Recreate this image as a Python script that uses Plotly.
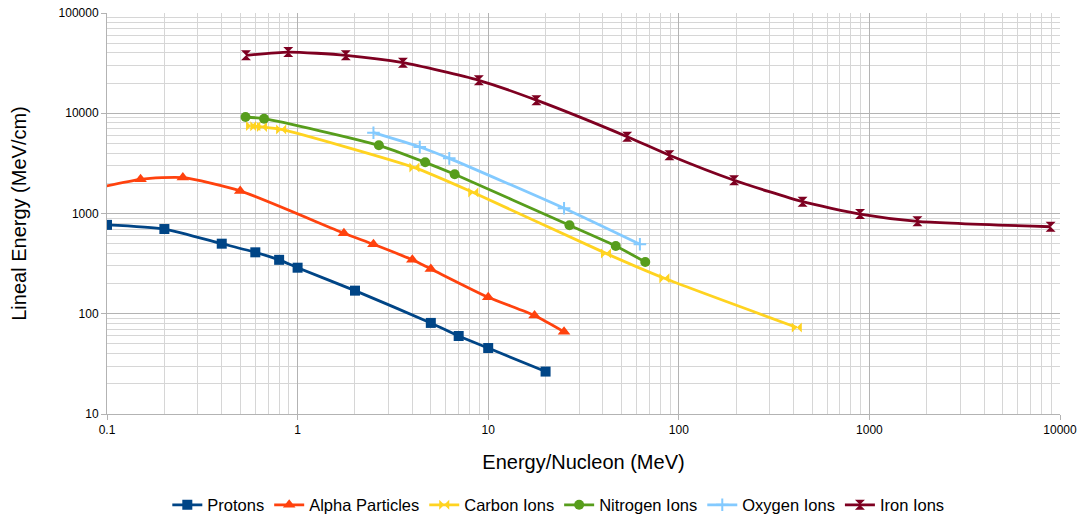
import plotly.graph_objects as go

# ---- data ----
protons_x = [0.1, 0.2, 0.4, 0.6, 0.8, 1, 2, 5, 7, 10, 20]
protons_y = [770, 700, 500, 410, 345, 288, 170, 81, 60, 45.5, 26.5]

alpha_x = [0.05, 0.15, 0.25, 0.5, 1.75, 2.5, 4, 5, 10, 17.5, 25]
alpha_y = [1400, 2190, 2280, 1680, 635, 493, 345, 280, 146, 96, 66]

carbon_x = [0.57, 0.6, 0.65, 0.82, 4.1, 8.35, 41.5, 84, 416]
carbon_y = [7450, 7400, 7300, 6900, 2870, 1620, 400, 226, 73]

nitrogen_x = [0.533, 0.667, 2.67, 4.67, 6.67, 26.7, 46.7, 66.7]
nitrogen_y = [9180, 8830, 4790, 3240, 2460, 762, 474, 328]

oxygen_x = [2.5, 4.375, 6.25, 25, 62.5]
oxygen_y = [6400, 4610, 3550, 1127, 493]

iron_x = [0.536, 0.893, 1.79, 3.57, 8.93, 17.9, 53.6, 89.3, 195, 446, 893, 1786, 8929]
iron_y = [37800, 40800, 37800, 31900, 21300, 13500, 5840, 3810, 2145, 1312, 988, 836, 738]

x_ticks = [0.1, 1, 10, 100, 1000, 10000]
x_ticktext = ["0.1", "1", "10", "100", "1000", "10000"]
y_ticks = [10, 100, 1000, 10000, 100000]
y_ticktext = ["10", "100", "1000", "10000", "100000"]

series = [
    ("Protons", protons_x, protons_y, "#004586", "square", 10),
    ("Alpha Particles", alpha_x, alpha_y, "#ff420e", "triangle-up", 11),
    ("Carbon Ions", carbon_x, carbon_y, "#ffd320", "bowtie", 10),
    ("Nitrogen Ions", nitrogen_x, nitrogen_y, "#579d1c", "circle", 10),
    ("Oxygen Ions", oxygen_x, oxygen_y, "#83caff", "cross-thin", 9),
    ("Iron Ions", iron_x, iron_y, "#7e0021", "hourglass", 10),
]

fig = go.Figure()
for name, xs, ys, col, sym, sz in series:
    marker = dict(symbol=sym, size=sz, color=col)
    if sym == "cross-thin":
        marker["line"] = dict(color=col, width=2)
    fig.add_trace(go.Scatter(
        x=xs, y=ys, name=name, mode="lines+markers",
        line=dict(color=col, width=2.8, shape="spline", smoothing=0.6),
        marker=marker, cliponaxis=True,
    ))

def minor_vals(lo, hi):
    vals = []
    for e in range(lo, hi):
        for m in range(2, 10):
            vals.append(m * 10 ** e)
    return vals

fig.update_layout(
    width=1082, height=518,
    margin=dict(l=107, r=22, t=13, b=104, autoexpand=False),
    paper_bgcolor="white", plot_bgcolor="white",
    font=dict(family="Liberation Sans, Arial, sans-serif", color="#000000", size=12),
    legend=dict(orientation="h", xref="container", yref="container",
                x=0.516, xanchor="center", y=0.025, yanchor="middle",
                font=dict(size=16.5), itemwidth=30, tracegroupgap=0),
    xaxis=dict(
        type="log", range=[-1, 4], automargin=False,
        tickvals=x_ticks, ticktext=x_ticktext,
        showgrid=True, gridcolor="#b3b3b3", gridwidth=1,
        minor=dict(tickvals=minor_vals(-1, 4), showgrid=True, gridcolor="#d6d6d6", gridwidth=1),
        showline=True, linecolor="#b3b3b3", linewidth=1,
        ticks="outside", ticklen=5, tickcolor="#b3b3b3",
        tickfont=dict(size=12), zeroline=False,
        title=dict(text="Energy/Nucleon (MeV)", font=dict(size=20), standoff=18),
    ),
    yaxis=dict(
        type="log", range=[1, 5], automargin=False,
        tickvals=y_ticks, ticktext=y_ticktext,
        showgrid=True, gridcolor="#b3b3b3", gridwidth=1,
        minor=dict(tickvals=minor_vals(1, 5), showgrid=True, gridcolor="#d6d6d6", gridwidth=1),
        showline=True, linecolor="#b3b3b3", linewidth=1,
        ticks="outside", ticklen=5, tickcolor="#b3b3b3",
        tickfont=dict(size=12), zeroline=False,
        title=dict(text="Lineal Energy (MeV/cm)", font=dict(size=20), standoff=26),
    ),
)

fig.write_html("out.html")
